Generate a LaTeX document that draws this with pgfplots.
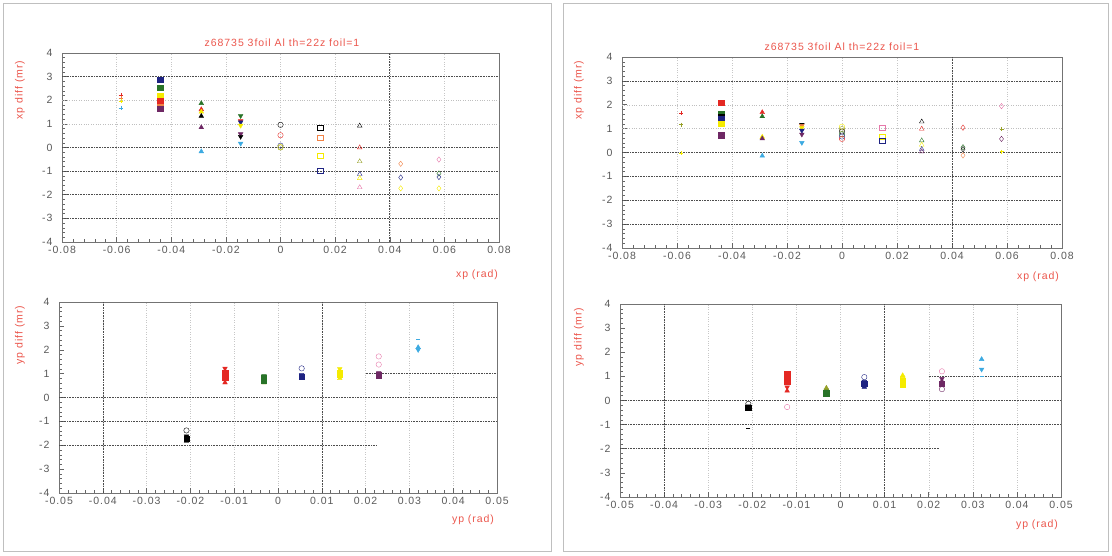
\documentclass[border=0pt]{standalone}
\usepackage{pgfplots}
\pgfplotsset{compat=1.18}
\usepackage{fontspec}
\setmainfont{Liberation Sans}
\newfontfamily\wide[LetterSpace=9]{Liberation Sans}
\definecolor{ttl}{RGB}{235,85,75}
\definecolor{c0}{RGB}{0,0,0}
\definecolor{c1}{RGB}{228,40,35}
\definecolor{c2}{RGB}{40,115,40}
\definecolor{c3}{RGB}{30,35,130}
\definecolor{c4}{RGB}{245,235,0}
\definecolor{c5}{RGB}{110,40,100}
\definecolor{c6}{RGB}{60,170,225}
\definecolor{c7}{RGB}{240,130,70}
\definecolor{c8}{RGB}{230,120,170}
\definecolor{c9}{RGB}{150,160,40}
\tikzset{
  gl/.style={densely dotted, black!70, line width=0.6pt},
  gf/.style={dotted, black!25},
}
\pgfplotsset{
  higz/.style={
    scale only axis, anchor=south west,
    axis line style={black!55, line width=0.5pt},
    tick align=inside, xtick pos=left, ytick pos=left,
    major tick length=5pt, minor tick length=2.5pt,
    every tick/.style={black!60, line width=0.5pt},
    ymin=-4, ymax=4, ytick={-4,-3,-2,-1,0,1,2,3,4}, minor y tick num=4,
    ticklabel style={font=\wide\fontsize{10.5}{12}\selectfont, text=black!65},
    yticklabel style={xshift=-6pt},
    /pgf/number format/assume math mode=true,
    scaled x ticks=false,
    xticklabel style={/pgf/number format/fixed, /pgf/number format/precision=2, yshift=-1pt},
    xmajorgrids=true,
    x grid style={dotted, black!22},
  },
  top/.style={xmin=-0.08, xmax=0.08, xtick={-0.08,-0.06,-0.04,-0.02,0,0.02,0.04,0.06,0.08}, minor x tick num=4},
  bot/.style={xmin=-0.05, xmax=0.05, xtick={-0.05,-0.04,-0.03,-0.02,-0.01,0,0.01,0.02,0.03,0.04,0.05}, minor x tick num=4},
  pts/.style={scatter, only marks, point meta=explicit symbolic, mark size=2.7pt,
    scatter/classes={0={c0},1={c1},2={c2},3={c3},4={c4},5={c5},6={c6},7={c7},8={c8},9={c9}}},
}
\begin{document}
\begin{tikzpicture}[x=1pt,y=1pt]
\path[use as bounding box] (0,0) rectangle (1112,556);
\draw[black!25] (3,5) rectangle (551,553);
\draw[black!25] (563,5) rectangle (1108,553);
% ---------------- top left
\begin{axis}[higz, top, at={(62pt,314pt)}, width=437pt, height=189pt]
\draw[gl] (axis cs:-0.08,3) -- (axis cs:0.08,3);
\draw[gf] (axis cs:-0.08,2) -- (axis cs:0.08,2);
\draw[gf] (axis cs:-0.08,1) -- (axis cs:0.08,1);
\draw[gl] (axis cs:-0.08,0) -- (axis cs:0.08,0);
\draw[gl] (axis cs:-0.08,-1) -- (axis cs:0.08,-1);
\draw[gl] (axis cs:-0.08,-2) -- (axis cs:0.08,-2);
\draw[gl] (axis cs:-0.08,-3) -- (axis cs:0.08,-3);
\draw[gl] (axis cs:0.04,-4) -- (axis cs:0.04,4);
\addplot[pts, mark=+, mark size=2pt] coordinates {(-0.0585,2.23)[1] (-0.0585,2.1)[7] (-0.0585,1.97)[4] (-0.0585,1.68)[6]};
\addplot[pts, mark=square*] coordinates {(-0.044,2.86)[3] (-0.044,2.53)[2] (-0.044,2.2)[4] (-0.044,1.92)[7] (-0.044,1.98)[1] (-0.044,1.65)[5]};
\addplot[pts, mark=triangle*] coordinates {(-0.029,1.87)[2] (-0.029,1.61)[1] (-0.029,1.51)[4] (-0.029,1.33)[0] (-0.029,0.85)[5] (-0.029,-0.17)[6]};
\addplot[pts, mark=triangle*, mark options={rotate=180}] coordinates {(-0.0146,1.34)[2] (-0.0146,1.12)[1] (-0.0146,1.07)[3] (-0.0146,0.93)[4] (-0.0146,0.57)[5] (-0.0146,0.46)[0] (-0.0146,0.17)[6]};
\addplot[pts, mark=o] coordinates {(0,0.96)[0] (0,0.52)[1] (0,0.08)[3] (0,0.02)[4] (0,0.0)[9]};
\addplot[pts, mark=square] coordinates {(0.0146,0.85)[0] (0.0146,0.41)[7] (0.0146,-0.34)[4] (0.0146,-0.97)[3]};
\addplot[pts, mark=triangle] coordinates {(0.029,0.92)[0] (0.029,0.0)[1] (0.029,-0.59)[9] (0.029,-1.13)[3] (0.029,-1.3)[4] (0.029,-1.69)[8]};
\addplot[pts, mark=diamond] coordinates {(0.044,-0.69)[7] (0.044,-1.27)[3] (0.044,-1.73)[4] (0.058,-0.51)[8] (0.058,-1.1)[2] (0.058,-1.25)[3] (0.058,-1.73)[4]};
\end{axis}
% ---------------- bottom left
\begin{axis}[higz, bot, at={(59pt,63pt)}, width=438pt, height=191pt]
\draw[gl] (axis cs:-0.05,0) -- (axis cs:0.05,0);
\draw[gl] (axis cs:-0.05,-1) -- (axis cs:0.05,-1);
\draw[gl] (axis cs:-0.05,-2) -- (axis cs:0.0225,-2);
\draw[gl] (axis cs:0.02,1) -- (axis cs:0.05,1);
\draw[gl] (axis cs:-0.04,-4) -- (axis cs:-0.04,4);
\draw[gl] (axis cs:0.01,-4) -- (axis cs:0.01,4);
\addplot[pts, mark=o] coordinates {(-0.0209,-1.38)[0] (0.0054,1.22)[3] (0.023,1.72)[8] (0.023,1.38)[8]};
\addplot[pts, mark=triangle*, mark options={rotate=180}] coordinates {(-0.0209,-1.62)[0] (-0.0121,1.22)[1] (-0.0121,0.72)[1] (-0.0032,0.9)[2] (0.0054,0.95)[3] (0.0141,1.2)[4] (0.023,1.03)[5] (0.032,2.0)[6]};
\addplot[pts, mark=triangle*] coordinates {(-0.0209,-1.82)[0] (-0.0121,1.12)[1] (-0.0121,0.62)[1] (-0.0032,0.62)[9] (0.0054,0.82)[3] (0.0141,0.8)[4] (0.032,2.1)[6]};
\addplot[pts, mark=square*] coordinates {(-0.0209,-1.72)[0] (-0.0121,1.02)[1] (-0.0121,0.92)[1] (-0.0121,0.82)[1] (-0.0032,0.8)[2] (-0.0032,0.72)[2] (0.0054,0.88)[3] (0.0141,1.05)[4] (0.0141,0.95)[4] (0.023,0.93)[5]};
\addplot[pts, mark=-, mark size=2pt] coordinates {(0.032,2.45)[6]};
\end{axis}
% ---------------- top right
\begin{axis}[higz, top, at={(622pt,308pt)}, width=440pt, height=191pt]
\draw[gl] (axis cs:-0.08,3) -- (axis cs:0.08,3);
\draw[gf] (axis cs:-0.08,2) -- (axis cs:0.08,2);
\draw[gf] (axis cs:-0.08,1) -- (axis cs:0.08,1);
\draw[gl] (axis cs:-0.08,0) -- (axis cs:0.08,0);
\draw[gl] (axis cs:-0.08,-1) -- (axis cs:0.08,-1);
\draw[gl] (axis cs:-0.08,-2) -- (axis cs:0.08,-2);
\draw[gl] (axis cs:-0.08,-3) -- (axis cs:0.08,-3);
\draw[gl] (axis cs:0.04,-4) -- (axis cs:0.04,4);
\addplot[pts, mark=+, mark size=2pt] coordinates {(-0.0585,1.65)[1] (-0.0585,1.17)[9] (-0.0585,-0.04)[4] (0.058,0.99)[9] (0.058,0.04)[4]};
\addplot[pts, mark=square*] coordinates {(-0.044,2.09)[1] (-0.044,1.61)[2] (-0.044,1.5)[0] (-0.044,1.4)[3] (-0.044,1.2)[4] (-0.044,0.72)[5]};
\addplot[pts, mark=triangle*] coordinates {(-0.029,1.68)[1] (-0.029,1.51)[2] (-0.029,0.65)[4] (-0.029,0.58)[5] (-0.029,-0.14)[6]};
\addplot[pts, mark=triangle*, mark options={rotate=180}] coordinates {(-0.0146,1.17)[0] (-0.0146,1.12)[7] (-0.0146,1.03)[4] (-0.0146,0.92)[3] (-0.0146,0.76)[5] (-0.0146,0.41)[6]};
\addplot[pts, mark=o] coordinates {(0,1.08)[4] (0,0.98)[9] (0,0.88)[0] (0,0.76)[2] (0,0.67)[3] (0,0.57)[1]};
\addplot[pts, mark=square] coordinates {(0.0146,1.04)[8] (0.0146,0.67)[4] (0.0146,0.49)[3]};
\addplot[pts, mark=triangle] coordinates {(0.029,1.29)[0] (0.029,0.99)[1] (0.029,0.5)[2] (0.029,0.32)[4] (0.029,0.14)[3] (0.029,0.04)[5]};
\addplot[pts, mark=diamond] coordinates {(0.044,1.04)[1] (0.044,0.22)[2] (0.044,0.14)[0] (0.044,-0.12)[7] (0.058,1.94)[8] (0.058,0.57)[5]};
\end{axis}
% ---------------- bottom right
\begin{axis}[higz, bot, at={(620pt,59pt)}, width=441pt, height=193pt]
\draw[gl] (axis cs:-0.05,0) -- (axis cs:0.05,0);
\draw[gl] (axis cs:-0.05,-1) -- (axis cs:0.05,-1);
\draw[gl] (axis cs:-0.05,-2) -- (axis cs:0.0225,-2);
\draw[gl] (axis cs:0.02,1) -- (axis cs:0.05,1);
\draw[gl] (axis cs:-0.04,-4) -- (axis cs:-0.04,4);
\draw[gl] (axis cs:0.01,-4) -- (axis cs:0.01,4);
\addplot[pts, mark=o] coordinates {(-0.0209,-0.14)[0] (-0.0121,-0.27)[8] (0.0054,0.97)[3] (0.023,1.21)[8] (0.023,0.47)[5]};
\addplot[pts, mark=triangle*, mark options={rotate=180}] coordinates {(-0.0209,-0.24)[0] (-0.0121,0.55)[1] (-0.0032,0.42)[2] (0.0054,0.78)[3] (0.0141,0.9)[4] (0.023,0.9)[5] (0.032,1.29)[6]};
\addplot[pts, mark=triangle*] coordinates {(-0.0121,0.4)[1] (-0.0032,0.52)[9] (0.0054,0.56)[3] (0.0141,1.04)[4] (0.023,0.8)[5] (0.032,1.71)[6]};
\addplot[pts, mark=square*] coordinates {(-0.0209,-0.3)[0] (-0.0121,1.1)[1] (-0.0121,0.98)[1] (-0.0121,0.77)[1] (-0.0032,0.33)[2] (-0.0032,0.27)[2] (0.0054,0.7)[3] (0.0141,0.8)[4] (0.0141,0.67)[4] (0.023,0.69)[5]};
\addplot[pts, mark=-, mark size=2pt] coordinates {(-0.0209,-1.13)[0] (0.032,1.0)[6]};
\end{axis}
% ---------------- texts
\begin{scope}[every node/.style={text=ttl, font=\wide\fontsize{10.5}{12}\selectfont, inner sep=0pt}]
\node at (282,513) {z68735 3foil Al th=22z foil=1};
\node at (842,509) {z68735 3foil Al th=22z foil=1};
\node[rotate=90] at (20,466) {xp diff (mr)};
\node[rotate=90] at (579,466) {xp diff (mr)};
\node[rotate=90] at (20,221) {yp diff (mr)};
\node[rotate=90] at (579,219) {yp diff (mr)};
\node at (477,281) {xp (rad)};
\node at (1038,279) {xp (rad)};
\node at (473,36) {yp (rad)};
\node at (1037,31) {yp (rad)};
\end{scope}
\end{tikzpicture}
\end{document}
